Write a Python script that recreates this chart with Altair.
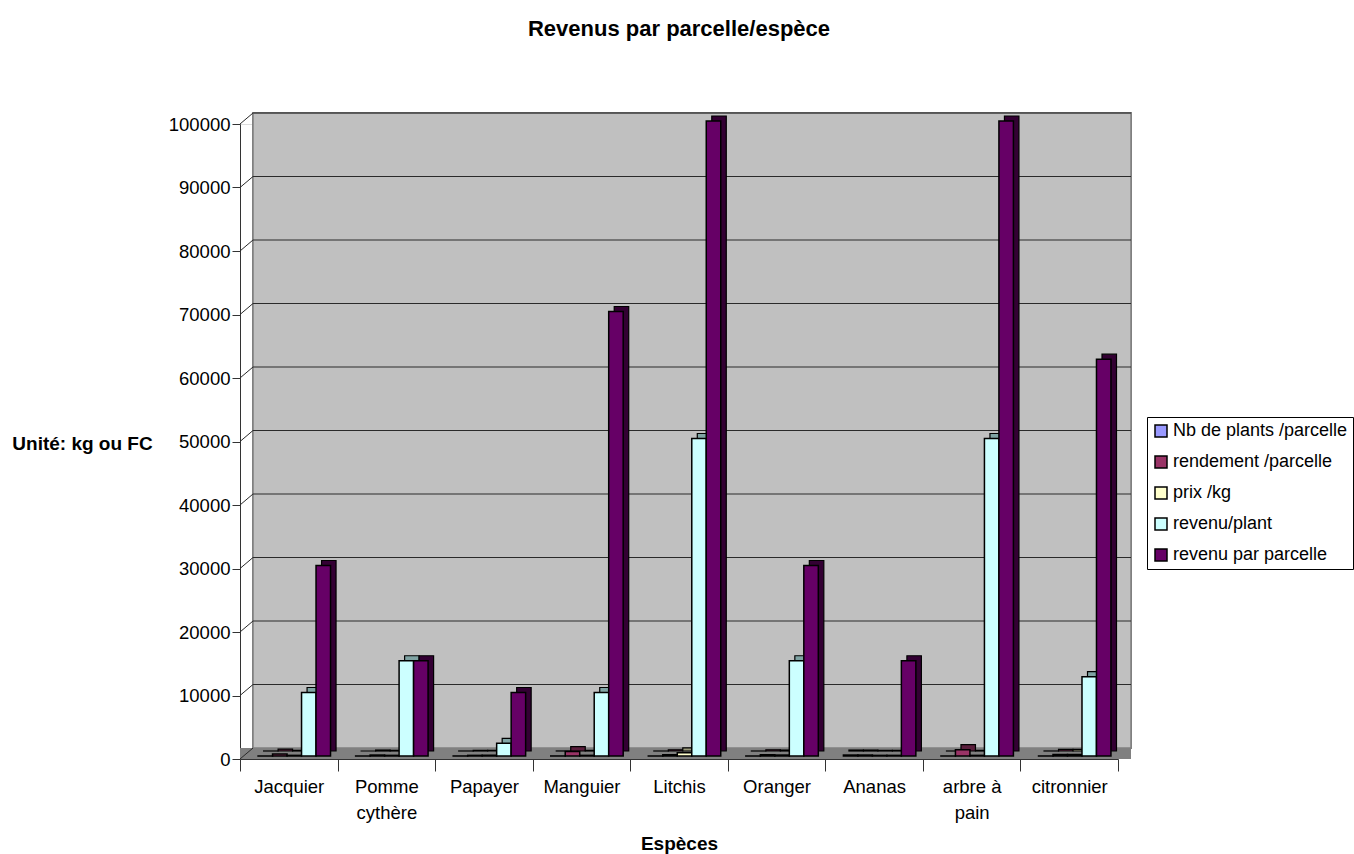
import altair as alt
import pandas as pd

categories = ["Jacquier", "Pomme cythère", "Papayer", "Manguier", "Litchis",
              "Oranger", "Ananas", "arbre à pain", "citronnier"]
series = ["Nb de plants /parcelle", "rendement /parcelle", "prix /kg",
          "revenu/plant", "revenu par parcelle"]

nb_plants = [3, 1, 5, 7, 2, 2, 150, 2, 5]
rendement = [300, 150, 100, 700, 200, 200, 150, 1000, 250]
prix_kg = [100, 100, 100, 100, 500, 150, 100, 100, 250]
revenu_plant = [10000, 15000, 2000, 10000, 50000, 15000, 100, 50000, 12500]
revenu_parcelle = [30000, 15000, 10000, 70000, 100000, 30000, 15000, 100000, 62500]

ticks = [0, 10000, 20000, 30000, 40000, 50000, 60000, 70000, 80000, 90000, 100000]

front_colors = ["#9999FF", "#993366", "#FFFFCC", "#CCFFFF", "#660066"]
depth_colors = ["#55558F", "#5A1E3C", "#9A9A7A", "#7FA3A3", "#330033"]

rows = []
for s, vals in zip(series, [nb_plants, rendement, prix_kg, revenu_plant, revenu_parcelle]):
    for c, v in zip(categories, vals):
        rows.append({"cat": c, "series": s, "value": v})
df = pd.DataFrame(rows)
tick_df = pd.DataFrame({"t": ticks})

W, H = 878, 635
DX, DY = 13, -11
FONT = "Liberation Sans"

yscale = alt.Scale(domain=[0, 100000], nice=False, zero=True)
xscale = alt.Scale(domain=categories, paddingInner=0, paddingOuter=0)

# back wall
wall = alt.Chart(tick_df).mark_rect(
    fill="#C0C0C0", stroke="#808080", strokeWidth=1.5,
    xOffset=DX, x2Offset=DX, yOffset=DY, y2Offset=DY
).encode(x=alt.value(0), x2=alt.value(W), y=alt.value(0), y2=alt.value(H))

floor = alt.Chart(tick_df).mark_rect(fill="#808080").encode(
    x=alt.value(0), x2=alt.value(W + DX), y=alt.value(H + DY), y2=alt.value(H)
)

grid = alt.Chart(tick_df).transform_filter("datum.t > 0").mark_rule(
    color="#2a2a2a", strokeWidth=1, yOffset=DY
).encode(
    y=alt.Y("t:Q", scale=yscale),
    x=alt.value(DX), x2=alt.value(W + DX),
)

connectors = alt.Chart(tick_df).mark_rule(
    color="#2a2a2a", strokeWidth=1, y2Offset=DY
).encode(
    y=alt.Y("t:Q", scale=yscale),
    y2=alt.Y2("t:Q"),
    x=alt.value(0), x2=alt.value(DX),
)

x_enc = alt.X(
    "cat:N", sort=categories, scale=xscale,
    axis=alt.Axis(
        title="Espèces", labelAngle=0, labelFont=FONT, labelFontSize=18.5,
        labelColor="black", domainColor="#333333", tickColor="#333333",
        tickSize=12, tickBand="extent", labelPadding=6, labelLineHeight=26,
        labelBaseline="top",
        labelExpr="datum.value == 'Pomme cythère' ? ['Pomme', 'cythère'] : datum.value == 'arbre à pain' ? ['arbre à', 'pain'] : datum.value",
        titleFont=FONT, titleFontSize=19, titleFontWeight="bold", titleColor="black",
        titleY=84, titleBaseline="middle",
    ),
)

y_enc = alt.Y(
    "value:Q", scale=yscale,
    axis=alt.Axis(
        title="Unité: kg ou FC", values=ticks, format="d", grid=False,
        labelFont=FONT, labelFontSize=18.5, labelColor="black", labelPadding=2,
        domainColor="#333333", tickColor="#333333", tickSize=8,
        titleFont=FONT, titleFontSize=19, titleFontWeight="bold", titleColor="black",
        titleAngle=0, titleX=-158, titleY=319, titleAlign="center", titleBaseline="middle",
    ),
)

depth = alt.Chart(df).mark_bar(
    stroke="black", strokeWidth=1.2, yOffset=-8, y2Offset=-8
).encode(
    x=x_enc,
    xOffset=alt.XOffset("series:N", sort=series,
                        scale=alt.Scale(paddingInner=0, paddingOuter=0.866, align=0.94)),
    y=y_enc,
    color=alt.Color("series:N", sort=series,
                    scale=alt.Scale(domain=series, range=depth_colors), legend=None),
)

front = alt.Chart(df).mark_bar(
    stroke="black", strokeWidth=1.5, yOffset=-3, y2Offset=-3
).encode(
    x=x_enc,
    xOffset=alt.XOffset("series:N", sort=series,
                        scale=alt.Scale(paddingInner=0, paddingOuter=0.866, align=0.72)),
    y=y_enc,
    color=alt.Color(
        "series:N", sort=series,
        scale=alt.Scale(domain=series, range=front_colors),
        legend=alt.Legend(
            title=None, orient="none", legendX=907, legendY=293,
            fillColor="white", strokeColor="black", padding=5,
            symbolType="square", symbolSize=144, symbolStrokeColor="black",
            symbolStrokeWidth=1.5, labelFont=FONT, labelFontSize=18,
            labelColor="black", rowPadding=13, labelOffset=3, labelLimit=0,
        ),
    ),
)

chart = alt.layer(wall, floor, grid, connectors, depth, front).resolve_scale(
    color="independent", xOffset="independent"
).properties(
    width=W, height=H,
    title=alt.Title("Revenus par parcelle/espèce", font=FONT, fontSize=22,
                    fontWeight="bold", color="black", anchor="middle", offset=71),
    autosize=alt.AutoSizeParams(type="none"),
    padding={"left": 240, "top": 124, "right": 236, "bottom": 95},
).configure_view(fill="#C0C0C0", stroke=None).configure(background="white")

chart.save("out.html", embed_options={"renderer": "svg", "actions": False})
